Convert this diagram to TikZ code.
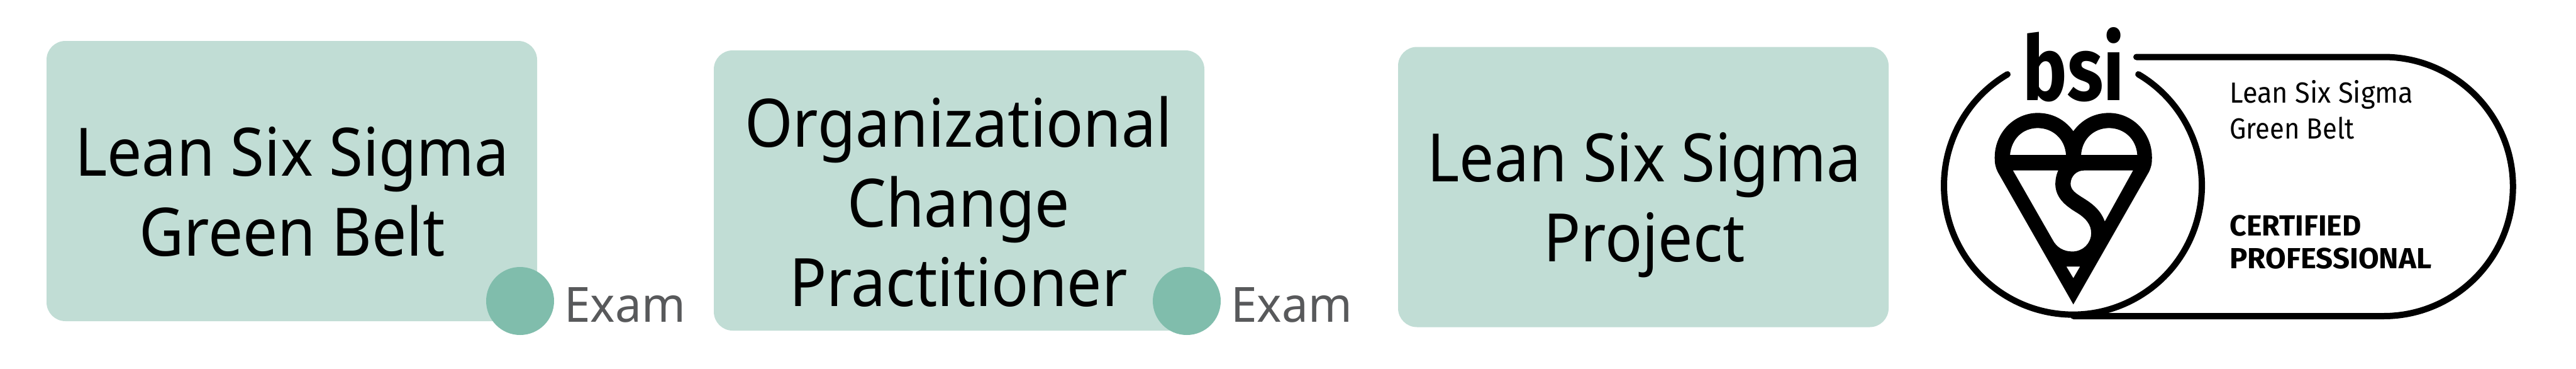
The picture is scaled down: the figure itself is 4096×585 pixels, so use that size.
\documentclass[tikz,border=0pt]{standalone}
\usepackage{fontspec}
\setmainfont{Noto Sans}
\newfontfamily\cardfont[FakeStretch=0.925]{Noto Sans}
\newfontfamily\examfont[FakeStretch=0.97]{Noto Sans}
\newfontfamily\logofont{Fira Sans}
\definecolor{boxfill}{RGB}{193,221,213}
\definecolor{dotfill}{RGB}{128,189,172}
\definecolor{examtext}{RGB}{88,89,91}
\tikzset{
  x=0.5pt,y=-0.5pt,
  card/.style={fill=boxfill,rounded corners=15pt,minimum width=390pt,minimum height=222.5pt,inner sep=0pt,outer sep=0pt},
  dot/.style={circle,fill=dotfill,minimum size=54pt,inner sep=0pt,outer sep=0pt},
  cardtext/.style={inner sep=0pt,align=center,font=\cardfont\fontsize{53}{63.2}\selectfont,text=black},
  examlabel/.style={anchor=base west,inner sep=0pt,font=\examfont\fontsize{38.5}{46}\selectfont,text=examtext},
  logoline/.style={anchor=base west,inner sep=0pt,font=\logofont\fontsize{22}{26}\selectfont,text=black},
  logobold/.style={anchor=base west,inner sep=0pt,font=\logofont\bfseries\fontsize{22}{26}\selectfont,text=black},
  ring/.style={draw=black,line width=5pt,line cap=round}
}
\begin{document}
\begin{tikzpicture}
\useasboundingbox (0,0) rectangle (4096,585);
\node[card] (c1) at (464,287.5) {};
\node[cardtext] (t1) at (464.5,304.6) {Lean Six Sigma\\Green Belt};
\node[dot] (d1) at (827,478) {};
\node[examlabel] (e1) at (897,511) {Exam};
\node[card] (c2) at (1525,302.5) {};
\node[cardtext] (t2) at (1524,320.4) {Organizational\\Change\\Practitioner};
\node[dot] (d2) at (1887,478) {};
\node[examlabel] (e2) at (1957,511) {Exam};
\node[card] (c3) at (2613,297) {};
\node[cardtext] (t3) at (2614.5,325.8) {Lean Six Sigma\\Project};
% logo rings
\draw[ring] (3192,118) arc[start angle=-120.5,end angle=-419.5,radius=205];
\draw[ring] (3397,90.5) -- (3790,90.5) arc[start angle=-90,end angle=90,radius=205.75] -- (3297,502);
% heart
\begin{scope}[shift={(3100,30)},x=0.1667pt,y=-0.1667pt]
\fill[black,even odd rule]
 (590,1360) -- (950,730) .. controls (962,705) and (965,690) .. (965,660)
 .. controls (965,540) and (870,448) .. (760,448) .. controls (690,448) and (630,480) .. (590,535)
 .. controls (550,480) and (490,448) .. (420,448) .. controls (310,448) and (215,540) .. (215,660)
 .. controls (215,690) and (218,705) .. (230,730) -- cycle
 (288,648) .. controls (295,570) and (350,520) .. (420,520) .. controls (490,520) and (550,570) .. (555,648) -- cycle
 (627,648) .. controls (632,570) and (690,520) .. (760,520) .. controls (830,520) and (890,570) .. (895,648) -- cycle
 (302,722) -- (518,722) .. controls (505,750) and (503,780) .. (505,800)
 .. controls (512,860) and (560,895) .. (610,925) .. controls (650,950) and (675,980) .. (675,1020)
 .. controls (675,1070) and (635,1108) .. (585,1108) .. controls (545,1108) and (510,1090) .. (490,1050) -- cycle
 (640,722) -- (875,722) -- (740,965) .. controls (720,910) and (680,880) .. (640,855)
 .. controls (600,830) and (577,815) .. (577,785) .. controls (577,750) and (605,722) .. (640,722) -- cycle
 (557,1180) -- (622,1180) -- (590,1235) -- cycle;
\end{scope}
% logo text
\node[anchor=base west,inner sep=0pt,font=\logofont\bfseries] (bsi) at (3216,159) {\resizebox{80.5pt}{58pt}{bsi}};
\node[logoline] (l1) at (3545,163) {\resizebox{146pt}{1.05\height}{Lean Six Sigma}};
\node[logoline] (l2) at (3545,220) {\resizebox{99pt}{1.05\height}{Green Belt}};
\node[logobold] (l3) at (3545,374) {\resizebox{104.5pt}{1.05\height}{CERTIFIED}};
\node[logobold] (l4) at (3545,426) {\resizebox{160.5pt}{1.05\height}{PROFESSIONAL}};
\end{tikzpicture}
\end{document}
